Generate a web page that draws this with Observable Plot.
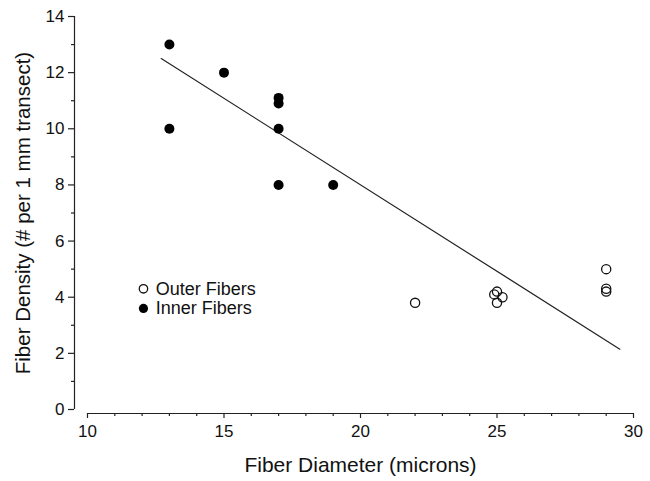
<!DOCTYPE html>
<html>
<head>
<meta charset="utf-8">
<script src="https://cdn.jsdelivr.net/npm/d3@7"></script>
<script src="https://cdn.jsdelivr.net/npm/@observablehq/plot@0.6"></script>
<style>
  html, body { margin: 0; padding: 0; background: #fff; }
  svg { display: block; }
</style>
</head>
<body>
<div id="chart"></div>
<script>
// Inner fibers (filled)
const innerX = [13, 13, 15, 17, 17, 17, 17, 19];
const innerY = [13, 10, 12, 11.1, 10.9, 10, 8, 8];
// Outer fibers (open)
const outerX = [22, 24.9, 25, 25.2, 25, 29, 29, 29];
const outerY = [3.8, 4.1, 4.2, 4.0, 3.8, 5.0, 4.3, 4.2];
// Fitted line endpoints
const fitX = [12.7, 29.5];
const fitY = [12.5, 2.15];
// Ticks
const xMajor = [10, 15, 20, 25, 30];
const xMinor = [11, 12, 13, 14, 16, 17, 18, 19, 21, 22, 23, 24, 26, 27, 28, 29];
const yMajor = [0, 2, 4, 6, 8, 10, 12, 14];
const yMinor = [1, 3, 5, 7, 9, 11, 13];
const legendLabels = ["Outer Fibers", "Inner Fibers"];
const legendY = [4.3, 3.6];

const inner = innerX.map((x, i) => ({x, y: innerY[i]}));
const outer = outerX.map((x, i) => ({x, y: outerY[i]}));
const fit = fitX.map((x, i) => ({x, y: fitY[i]}));

const font = "'Liberation Sans', Arial, Helvetica, sans-serif";
const axisColor = "#222";

const chart = Plot.plot({
  width: 650,
  height: 481,
  marginLeft: 87,
  marginRight: 17,
  marginTop: 16,
  marginBottom: 72,
  style: {fontFamily: font, background: "#fff", color: "#111"},
  x: {domain: [10, 30]},
  y: {domain: [0, 14]},
  marks: [
    // axis lines
    Plot.ruleX([10], {y1: 0, y2: 14, dx: -13, stroke: axisColor, strokeWidth: 1.2}),
    Plot.ruleY([0], {x1: 10, x2: 30, dy: 4, stroke: axisColor, strokeWidth: 1.2}),
    // x axis
    Plot.axisX({ticks: xMajor, tickSize: 5, dy: 4, tickPadding: 6, fontSize: 17, stroke: axisColor, strokeWidth: 1.2, label: null}),
    Plot.axisX({ticks: xMinor, tickSize: 3, dy: 4, tickFormat: () => "", stroke: axisColor, strokeWidth: 1.2, label: null}),
    // y axis
    Plot.axisY({ticks: yMajor, tickSize: 6, dx: -13, tickPadding: 4, fontSize: 17, stroke: axisColor, strokeWidth: 1.2, label: null}),
    Plot.axisY({ticks: yMinor, tickSize: 3, dx: -13, tickFormat: () => "", stroke: axisColor, strokeWidth: 1.2, label: null}),
    // fit line
    Plot.line(fit, {x: "x", y: "y", stroke: "#222", strokeWidth: 1.2}),
    // points
    Plot.dot(outer, {x: "x", y: "y", r: 4.6, stroke: "#111", strokeWidth: 1.3, fill: "none"}),
    Plot.dot(inner, {x: "x", y: "y", r: 5, fill: "#000", stroke: "none"}),
    // legend
    Plot.dot([legendLabels[0]], {x: 12.05, y: legendY[0], r: 4.2, stroke: "#111", strokeWidth: 1.3, fill: "none"}),
    Plot.dot([legendLabels[1]], {x: 12.05, y: legendY[1], r: 4.6, fill: "#000"}),
    Plot.text(legendLabels, {x: 12.5, y: (d, i) => legendY[i], text: d => d, textAnchor: "start", fontSize: 18, fill: "#111"}),
    // axis labels
    Plot.text(["Fiber Diameter (microns)"], {frameAnchor: "bottom", dy: 62, text: d => d, fontSize: 21, fill: "#111"}),
    Plot.text(["Fiber Density (# per 1 mm transect)"], {frameAnchor: "left", dx: -64, rotate: -90, textAnchor: "middle", text: d => d, fontSize: 20.5, fill: "#111"})
  ]
});
document.getElementById("chart").append(chart);
</script>
</body>
</html>
